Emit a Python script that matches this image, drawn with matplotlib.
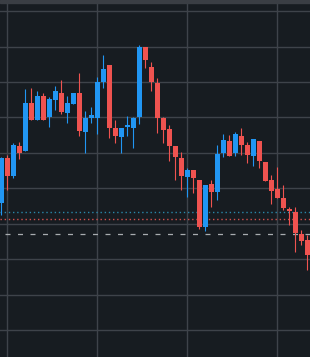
import matplotlib
matplotlib.use("Agg")
import matplotlib.pyplot as plt
import numpy as np

# OHLC values (52 candles)
opens = [45.9, 58.5, 53.5, 61.9, 60.5, 74.1, 69.3, 76.0, 70.1, 74.9,
         76.9, 71.2, 73.8, 76.9, 65.9, 69.8, 69.8, 80.0, 84.8, 67.0,
         64.5, 67.3, 67.0, 70.1, 89.9, 84.2, 79.7, 69.8, 66.7, 61.9,
         58.5, 53.2, 55.2, 52.3, 39.1, 51.2, 49.0, 60.0, 63.3, 60.0,
         64.8, 62.2, 59.1, 63.3, 57.4, 52.3, 49.8, 47.3, 44.2, 43.3,
         37.1, 35.4]
highs = [58.8, 59.4, 62.8, 63.1, 78.0, 78.3, 77.5, 76.9, 75.8, 78.9,
         80.6, 76.0, 76.9, 82.5, 71.8, 72.9, 81.4, 87.6, 84.8, 69.3,
         67.0, 70.4, 70.1, 90.4, 89.9, 85.6, 81.1, 70.1, 67.9, 61.9,
         60.2, 55.7, 55.2, 52.3, 50.9, 52.3, 62.2, 65.3, 65.0, 65.9,
         67.0, 63.1, 63.9, 63.3, 57.4, 53.8, 56.0, 50.9, 44.7, 44.7,
         38.2, 36.8]
lows = [42.5, 49.5, 52.9, 58.3, 60.5, 69.3, 69.3, 69.3, 67.3, 72.1,
        71.0, 68.4, 73.8, 64.8, 60.0, 68.4, 65.3, 78.3, 64.2, 62.8,
        60.0, 64.8, 61.4, 68.1, 83.9, 77.5, 65.6, 62.8, 57.7, 52.3,
        49.5, 47.5, 48.7, 38.5, 38.0, 44.7, 46.7, 58.8, 59.1, 59.1,
        59.4, 57.1, 56.3, 55.7, 52.1, 45.6, 47.3, 43.9, 39.6, 32.0,
        34.0, 26.9]
closes = [58.5, 53.5, 62.2, 60.0, 74.1, 69.3, 76.0, 69.3, 75.2, 77.5,
          71.5, 74.1, 76.9, 66.2, 69.8, 70.7, 80.0, 83.7, 67.0, 64.8,
          67.0, 67.9, 69.8, 89.9, 86.2, 80.0, 69.8, 66.5, 61.9, 58.8,
          53.5, 55.2, 52.9, 39.1, 50.9, 49.0, 59.7, 63.6, 59.1, 65.3,
          62.2, 59.4, 63.9, 57.7, 52.1, 49.2, 47.3, 44.4, 43.6, 37.4,
          35.1, 31.2]

# horizontal level lines
level_blue = 43.3
level_red = 41.3
level_gray = 37.1

bg = "#171c21"
up_col = "#2196f3"
down_col = "#ef5350"

fig = plt.figure(figsize=(3.1, 3.57), dpi=100, facecolor=bg)
ax = fig.add_axes([0, 0, 1, 1])
ax.set_facecolor(bg)

o = np.array(opens)
h = np.array(highs)
l = np.array(lows)
c = np.array(closes)
x = np.arange(len(o))
colors = [up_col if cc >= oo else down_col for oo, cc in zip(o, c)]

# grid
for yv in range(10, 101, 10):
    ax.axhline(yv, color="#3e434a", lw=1.0, zorder=0)
for xv in [1, 16, 31, 46]:
    ax.axvline(xv, color="#3e434a", lw=1.0, zorder=0)

# level lines
ax.axhline(level_blue, color="#2a88aa", lw=1.0, ls=(0, (1, 2)), zorder=1)
ax.axhline(level_red, color="#d4504d", lw=1.0, ls=(0, (1, 2)), zorder=1)
ax.axhline(level_gray, color="#a8acb0", lw=0.9, ls=(6, (4, 6)), zorder=1)

# candles
ax.vlines(x, l, h, colors=colors, lw=0.8, zorder=2)
bottoms = np.minimum(o, c)
heights = np.maximum(np.abs(c - o), 0.35)
ax.bar(x, heights, bottom=bottoms, width=0.83, color=colors, lw=0, zorder=3)

ax.set_xlim(-0.25, 51.42)
ax.set_ylim(2.4, 103.13)
ax.axis("off")

# lighter band at the top edge
fig.patches.append(plt.Rectangle((0, 1 - 3 / 357), 1, 3 / 357, transform=fig.transFigure,
                                 color="#3a3e44", zorder=5))

fig.savefig("out.png", dpi=100, facecolor=bg)
